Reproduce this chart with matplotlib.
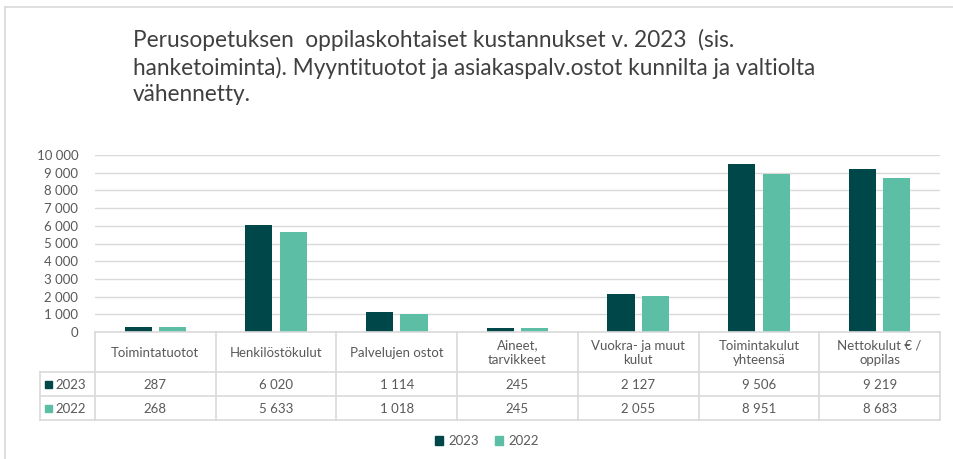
import matplotlib
matplotlib.use("Agg")
import matplotlib.pyplot as plt
from matplotlib.patches import Rectangle
from matplotlib.lines import Line2D

# Per-pupil basic education costs, euros
categories = ["Toimintatuotot", "Henkilöstökulut", "Palvelujen ostot",
              "Aineet,\ntarvikkeet", "Vuokra- ja muut\nkulut",
              "Toimintakulut\nyhteensä", "Nettokulut € /\noppilas"]
values_2023 = [287, 6020, 1114, 245, 2127, 9506, 9219]
values_2022 = [268, 5633, 1018, 245, 2055, 8951, 8683]
series_names = ["2023", "2022"]
y_ticks = [0, 1000, 2000, 3000, 4000, 5000, 6000, 7000, 8000, 9000, 10000]

title = ("Perusopetuksen  oppilaskohtaiset kustannukset v. 2023  (sis.\n"
         "hanketoiminta). Myyntituotot ja asiakaspalv.ostot kunnilta ja valtiolta\n"
         "vähennetty.")

c2023 = "#00474a"
c2022 = "#5cbfa5"
grid_c = "#d9d9d9"
text_c = "#595959"
FONT = "Lato"

W, H = 954, 459
fig = plt.figure(figsize=(W / 100, H / 100), dpi=100)
plt.rcParams["font.family"] = [FONT, "DejaVu Sans"]


def rect(x0, y0, x1, y1):
    """Pixel box (top-left origin) -> figure fraction rect."""
    return [x0 / W, (H - y1) / H, (x1 - x0) / W, (y1 - y0) / H]


# frame of the chart area
frame = fig.add_axes([0, 0, 1, 1])
frame.set_xlim(0, W)
frame.set_ylim(H, 0)
frame.axis("off")
frame.plot([5, W], [7, 7], color=grid_c, lw=1.2)
frame.plot([5, 5], [7, H], color=grid_c, lw=1.2)

fig.text(133 / W, 1 - 29 / H, title, ha="left", va="top", fontsize=16.3,
         color="#404040", linespacing=1.3, family=[FONT, "DejaVu Sans"])

# bar area
PX0, PX1 = 95, 940
ax = fig.add_axes(rect(PX0, 155, PX1, 332))
n = len(categories)
xs = list(range(n))
off, bw = 0.143, 0.225
ax.bar([x - off for x in xs], values_2023, width=bw, color=c2023, zorder=3)
ax.bar([x + off for x in xs], values_2022, width=bw, color=c2022, zorder=3)
ax.set_xlim(-0.5, n - 0.5)
ax.set_ylim(0, 10000)
ax.set_yticks(y_ticks)
ax.set_yticklabels([f"{v:,}".replace(",", " ") for v in y_ticks],
                   fontsize=9.5, color=text_c)
ax.tick_params(axis="y", length=0, pad=12)
ax.set_xticks([])
ax.grid(axis="y", color=grid_c, lw=1, zorder=0)
for s in ax.spines.values():
    s.set_visible(False)

# data table below the bars
TY0, TY1 = 332, 420
tab = fig.add_axes(rect(PX0, TY0, PX1, TY1))
tab.set_xlim(-0.5, n - 0.5)
tab.set_ylim(TY1 - TY0, 0)
tab.axis("off")
unit = (PX1 - PX0) / n  # pixels per category
left_x = -0.5 - (PX0 - 40) / unit
h_row = 40
r1, r2 = h_row, h_row + 24
bottom = TY1 - TY0
lk = dict(color=grid_c, lw=1.2, clip_on=False)
tab.add_line(Line2D([-0.5, n - 0.5], [0, 0], **lk))
for yy in (r1, r2, bottom):
    tab.add_line(Line2D([left_x, n - 0.5], [yy, yy], **lk))
tab.add_line(Line2D([left_x, left_x], [r1, bottom], **lk))
for i in range(n + 1):
    tab.add_line(Line2D([i - 0.5, i - 0.5], [0, bottom], **lk))

for i, cat in enumerate(categories):
    tab.text(i, h_row / 2 + 1, cat, ha="center", va="center", fontsize=9.5,
             color=text_c, linespacing=1.3, clip_on=False)
    tab.text(i, (r1 + r2) / 2 + 1, f"{values_2023[i]:,}".replace(",", " "),
             ha="center", va="center", fontsize=9.5, color=text_c)
    tab.text(i, (r2 + bottom) / 2 + 1, f"{values_2022[i]:,}".replace(",", " "),
             ha="center", va="center", fontsize=9.5, color=text_c)

key_w = 7 / unit
for (yc, name, col) in (((r1 + r2) / 2, series_names[0], c2023),
                        ((r2 + bottom) / 2, series_names[1], c2022)):
    kx = left_x + 5 / unit
    tab.add_patch(Rectangle((kx, yc - 3.5), key_w, 7, color=col, clip_on=False))
    tab.text(kx + key_w + 3 / unit, yc + 1, name, ha="left", va="center",
             fontsize=9.5, color=text_c, clip_on=False)

# legend
handles = [Rectangle((0, 0), 1, 1, color=c2023), Rectangle((0, 0), 1, 1, color=c2022)]
fig.legend(handles, series_names, loc="center", bbox_to_anchor=(487 / W, 1 - 441 / H),
           ncol=2, frameon=False, fontsize=9.5, handlelength=0.6, handleheight=0.6,
           handletextpad=0.4, columnspacing=1.2, labelcolor=text_c)

fig.savefig("out.png", dpi=100)
